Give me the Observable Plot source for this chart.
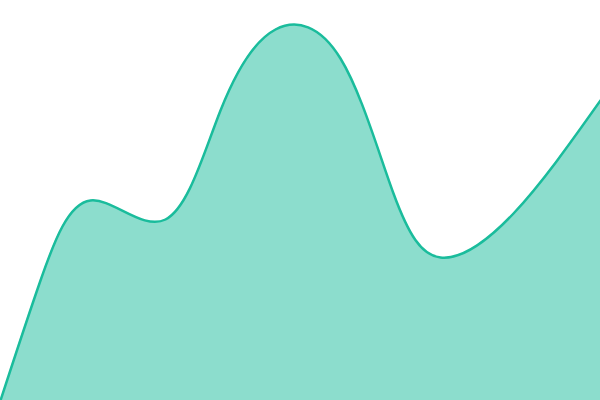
<!DOCTYPE html>
<html>
<head>
<meta charset="utf-8">
<script src="https://cdn.jsdelivr.net/npm/d3@7"></script>
<script src="https://cdn.jsdelivr.net/npm/@observablehq/plot@0.6"></script>
<style>
  html, body { margin: 0; padding: 0; background: #fff; }
  #chart { width: 600px; height: 400px; }
</style>
</head>
<body>
<div id="chart"></div>
<script>
const xs = [0, 40, 90, 165, 220, 275, 340, 393, 440, 513, 600];
const values = [0, 120, 200, 181, 290, 371, 342, 207, 143, 187, 300];

const data = xs.map((x, i) => ({x, v: values[i]}));

const chart = Plot.plot({
  width: 600,
  height: 400,
  margin: 0,
  x: {domain: [0, 600], axis: null},
  y: {domain: [0, 400], axis: null},
  marks: [
    Plot.areaY(data, {x: "x", y: "v", curve: "natural", fill: "#1abc9c", fillOpacity: 0.5}),
    Plot.lineY(data, {x: "x", y: "v", curve: "natural", stroke: "#1abc9c", strokeWidth: 2.5})
  ]
});
document.getElementById("chart").appendChild(chart);
</script>
</body>
</html>
